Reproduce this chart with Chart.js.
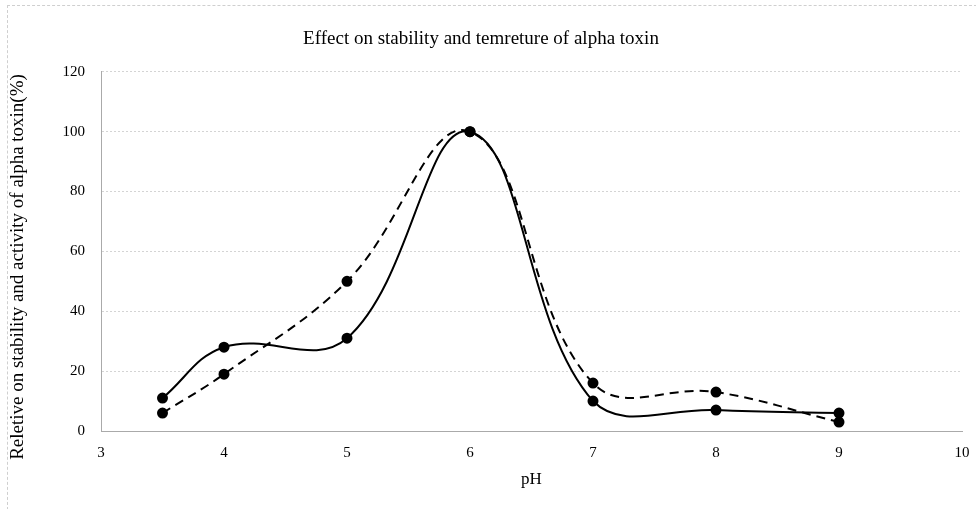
<!DOCTYPE html>
<html>
<head>
<meta charset="utf-8">
<script src="https://cdn.jsdelivr.net/npm/chart.js@4"></script>
<style>
  html, body { margin: 0; padding: 0; background: #fff; }
  #wrap { position: relative; width: 976px; height: 509px; }
  #frame { position: absolute; left: 7px; top: 5px; width: 975px; height: 510px; border: 1px dashed #cfcfcf; box-sizing: border-box; pointer-events: none; }
</style>
</head>
<body>
<div id="wrap">
  <canvas id="chart" width="976" height="509"></canvas>
  <div id="frame"></div>
</div>
<script>
// valori
const phValues = [3.5, 4, 5, 6, 7, 8, 9];
const activity = [11, 28, 31, 100, 10, 7, 6];
const stability = [6, 19, 50, 100, 16, 13, 3];
const xTicks = [3, 4, 5, 6, 7, 8, 9, 10];
const yTicks = [0, 20, 40, 60, 80, 100, 120];

const serif = "'Liberation Serif', 'Times New Roman', serif";
const yTitle = 'Reletive on stability and activity of alpha toxin(%)';

function toPoints(ys) {
    return phValues.map((x, i) => ({ x, y: ys[i] }));
}

// titolo asse y, un po' piu in basso del centro come nell'originale
const yTitlePlugin = {
    id: 'yTitle',
    afterDraw(chart) {
        const c = chart.ctx;
        c.save();
        c.translate(18, 267);
        c.rotate(-Math.PI / 2);
        c.fillStyle = '#000';
        c.font = `19px ${serif}`;
        c.textAlign = 'center';
        c.textBaseline = 'middle';
        c.fillText(yTitle, 0, 0);
        c.restore();
    }
};

const ctx = document.getElementById('chart').getContext('2d');

new Chart(ctx, {
    type: 'line',
    data: {
        datasets: [
            {
                label: 'activity',
                data: toPoints(activity),
                borderColor: '#000',
                backgroundColor: '#000',
                borderWidth: 2,
                pointRadius: 4.5,
                tension: 0.4,
                fill: false
            },
            {
                label: 'stability',
                data: toPoints(stability),
                borderColor: '#000',
                backgroundColor: '#000',
                borderWidth: 2,
                borderDash: [9, 6],
                pointRadius: 4.5,
                tension: 0.4,
                fill: false
            }
        ]
    },
    options: {
        responsive: false,
        animation: false,
        layout: { padding: { left: 0, right: 14, top: 0, bottom: 15 } },
        plugins: {
            legend: { display: false },
            tooltip: { enabled: false },
            title: {
                display: true,
                text: 'Effect on stability and temreture of alpha toxin',
                color: '#000',
                font: { family: serif, size: 19, weight: 'normal' },
                padding: { top: 28, bottom: 21 }
            }
        },
        scales: {
            x: {
                type: 'linear',
                min: xTicks[0],
                max: xTicks[xTicks.length - 1],
                afterBuildTicks: axis => { axis.ticks = xTicks.map(v => ({ value: v })); },
                afterFit: axis => {
                    axis.height = 63;
                    axis.paddingRight = 0;
                    axis.paddingLeft = 0;
                },
                grid: { display: false, drawTicks: false },
                border: { display: true, color: '#aaa', dash: [2, 2] },
                ticks: { color: '#000', font: { family: serif, size: 15 }, padding: 13 },
                title: {
                    display: true,
                    text: 'pH',
                    color: '#000',
                    font: { family: serif, size: 17 },
                    padding: { top: 4 }
                }
            },
            y: {
                min: yTicks[0],
                max: yTicks[yTicks.length - 1],
                afterBuildTicks: axis => { axis.ticks = yTicks.map(v => ({ value: v })); },
                afterFit: axis => { axis.width = 101; },
                grid: { color: '#d4d4d4', drawTicks: false },
                border: { display: true, color: '#aaa', dash: [2, 2] },
                ticks: { color: '#000', font: { family: serif, size: 15 }, padding: 16 }
            }
        }
    },
    plugins: [yTitlePlugin]
});
</script>
</body>
</html>
